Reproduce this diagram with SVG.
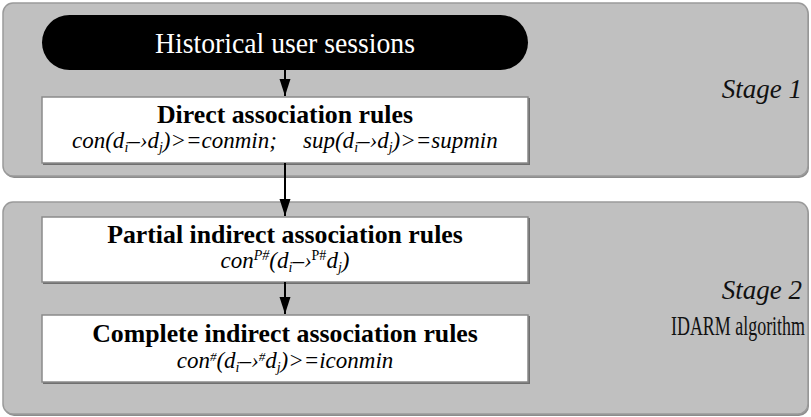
<svg xmlns="http://www.w3.org/2000/svg" width="811" height="417" viewBox="0 0 811 417">
<defs>
<style>
.panel{fill:#c0c0c0;stroke:#9a9a9a;stroke-width:1.5}
.pshadow{fill:#8c8c8c}
.box{fill:#ffffff;stroke:#8a8a8a;stroke-width:1.5}
.bshadow{fill:#6f6f6f}
text{font-family:"Liberation Serif","Times New Roman",Times,serif}
.title{font-weight:bold;font-size:25.8px;fill:#000;text-anchor:middle}
.formula{font-style:italic;font-size:23px;fill:#000}
.stage{font-style:italic;font-size:27px;fill:#111;text-anchor:end}
.plain{font-size:27px;fill:#111;text-anchor:end}
.conn{stroke:#000;stroke-width:2;fill:none;marker-end:url(#ah)}
</style>
<marker id="ah" markerWidth="17" markerHeight="12" refX="17" refY="6" orient="auto" markerUnits="userSpaceOnUse" viewBox="0 0 17 12">
<path d="M0,0.5 L17,6 L0,11.5 Z" fill="#000"/>
</marker>
</defs>
<rect width="811" height="417" fill="#ffffff"/>
<g id="stage1">
<rect class="pshadow" x="4" y="5" width="805" height="173" rx="10"/>
<rect class="panel" x="3" y="3" width="805" height="173" rx="10"/>
<text class="stage" x="802" y="98">Stage 1</text>
</g>
<g id="stage2">
<rect class="pshadow" x="4" y="204" width="805" height="212" rx="10"/>
<rect class="panel" x="3" y="202" width="805" height="212" rx="10"/>
<text class="stage" x="802" y="299">Stage 2</text>
<text class="plain" x="805" y="335" textLength="134" lengthAdjust="spacingAndGlyphs">IDARM algorithm</text>
</g>
<g id="historical">
<rect x="42" y="15" width="486" height="55" rx="27.5" fill="#000"/>
<text x="285" y="53" font-size="30" fill="#fff" text-anchor="middle" textLength="260" lengthAdjust="spacingAndGlyphs">Historical user sessions</text>
</g>
<g id="direct">
<rect class="bshadow" x="43" y="98" width="487" height="67"/>
<rect class="box" x="42" y="97" width="486" height="66"/>
<text class="title" x="285" y="123">Direct association rules</text>
<text class="formula" x="72" y="148">con(d<tspan font-size="14" dy="4">i</tspan><tspan dy="-4">–›d</tspan><tspan font-size="14" dy="4">j</tspan><tspan dy="-4">)&gt;=conmin;</tspan></text>
<text class="formula" x="303" y="148">sup(d<tspan font-size="14" dy="4">i</tspan><tspan dy="-4">–›d</tspan><tspan font-size="14" dy="4">j</tspan><tspan dy="-4">)&gt;=supmin</tspan></text>
</g>
<g id="partial">
<rect class="bshadow" x="43" y="218" width="487" height="66"/>
<rect class="box" x="42" y="217" width="486" height="65"/>
<text class="title" x="285" y="243">Partial indirect association rules</text>
<text class="formula" x="285" y="268" text-anchor="middle">con<tspan font-size="14" dy="-8">P#</tspan><tspan dy="8">(d</tspan><tspan font-size="14" dy="4">i</tspan><tspan dy="-4">–›</tspan><tspan font-size="14" font-style="normal" dy="-8">P#</tspan><tspan dy="8">d</tspan><tspan font-size="14" dy="4">j</tspan><tspan dy="-4">)</tspan></text>
</g>
<g id="complete">
<rect class="bshadow" x="43" y="316" width="487" height="68"/>
<rect class="box" x="42" y="315" width="486" height="67"/>
<text class="title" x="285" y="342">Complete indirect association rules</text>
<text class="formula" x="285" y="368" text-anchor="middle">con<tspan font-size="13" dy="-7">#</tspan><tspan dy="7">(d</tspan><tspan font-size="14" dy="4">i</tspan><tspan dy="-4">–›</tspan><tspan font-size="13" dy="-7">#</tspan><tspan dy="7">d</tspan><tspan font-size="14" dy="4">j</tspan><tspan dy="-4">)&gt;=iconmin</tspan></text>
</g>
<g id="connectors">
<line class="conn" x1="285" y1="70" x2="285" y2="96"/>
<line class="conn" x1="285" y1="163" x2="285" y2="216"/>
<line class="conn" x1="285" y1="282" x2="285" y2="314"/>
</g>
</svg>
